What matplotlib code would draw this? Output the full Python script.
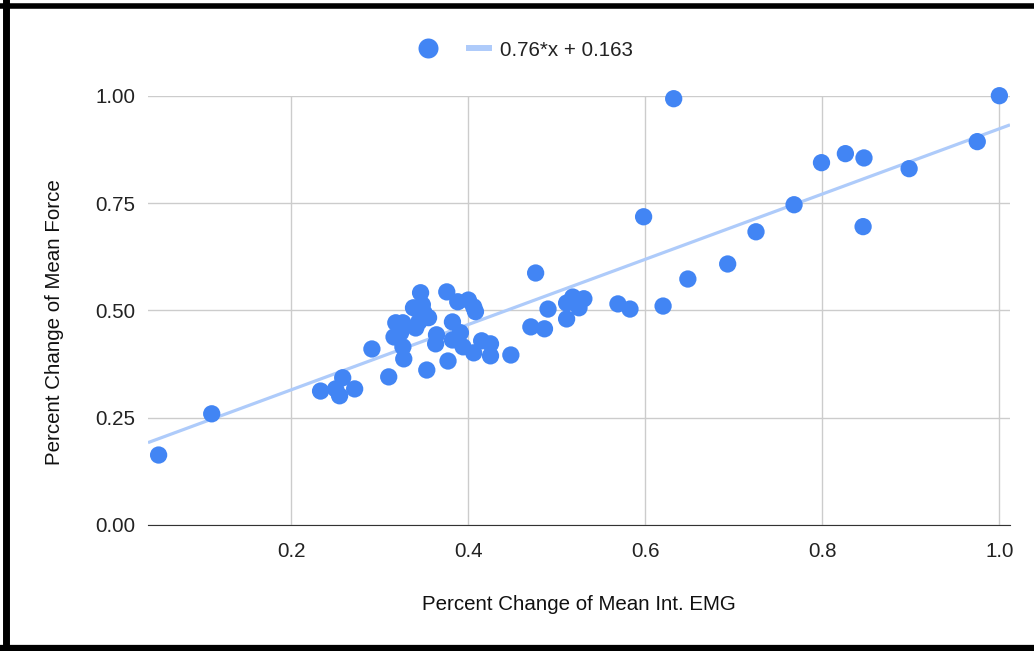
import numpy as np
import matplotlib.pyplot as plt
from matplotlib.lines import Line2D

plt.rcParams['font.family'] = ['Liberation Sans', 'DejaVu Sans']

# values
emg = [0.050, 0.110, 0.233, 0.258, 0.250, 0.2545, 0.2715, 0.291, 0.310, 0.316,
       0.318, 0.326, 0.3235, 0.326, 0.327, 0.338, 0.346, 0.348, 0.350, 0.355,
       0.344, 0.3405, 0.353, 0.364, 0.363, 0.3756, 0.377, 0.382, 0.382, 0.388,
       0.391, 0.394, 0.400, 0.406, 0.408, 0.406, 0.415, 0.425, 0.425, 0.448,
       0.476, 0.4706, 0.486, 0.490, 0.511, 0.511, 0.518, 0.525, 0.5305, 0.569,
       0.5826, 0.620, 0.598, 0.632, 0.648, 0.693, 0.725, 0.768, 0.799, 0.826,
       0.847, 0.846, 0.898, 0.975, 1.000]
force = [0.163, 0.259, 0.312, 0.343, 0.317, 0.301, 0.317, 0.410, 0.345, 0.438,
         0.471, 0.471, 0.448, 0.415, 0.387, 0.506, 0.541, 0.513, 0.494, 0.483,
         0.473, 0.459, 0.361, 0.443, 0.422, 0.543, 0.382, 0.473, 0.431, 0.520,
         0.448, 0.415, 0.524, 0.508, 0.497, 0.401, 0.429, 0.422, 0.394, 0.396,
         0.587, 0.4615, 0.457, 0.503, 0.480, 0.517, 0.531, 0.506, 0.527, 0.515,
         0.503, 0.510, 0.718, 0.993, 0.573, 0.608, 0.683, 0.746, 0.844, 0.865,
         0.855, 0.695, 0.830, 0.893, 1.000]
slope, intercept = 0.76, 0.163
trend_label = "0.76*x + 0.163"
x_ticks = [0.2, 0.4, 0.6, 0.8, 1.0]
y_ticks = [0.0, 0.25, 0.5, 0.75, 1.0]

dot_color = '#4285F4'
trend_color = '#AECBFA'
fs = 14.8

fig = plt.figure(figsize=(10.34, 6.51), dpi=100)
ax = fig.add_axes([148 / 1034, 1 - 525 / 651, (1010 - 148) / 1034, (525 - 95.7) / 651])

xmin, xmax = 0.038, 1.012
xs = np.array([xmin, xmax])
ax.plot(xs, slope * xs + intercept, color=trend_color, lw=2.3, zorder=2, solid_capstyle='butt')
ax.scatter(emg, force, s=155, color=dot_color, edgecolors='none', zorder=3, clip_on=False)

ax.set_xlim(xmin, xmax)
ax.set_ylim(0, 1.0)
ax.set_xticks(x_ticks)
ax.set_xticklabels([f"{t:.1f}" for t in x_ticks])
ax.set_yticks(y_ticks)
ax.set_yticklabels([f"{t:.2f}" for t in y_ticks])
ax.grid(True, color='#cccccc', lw=1)
ax.set_axisbelow(True)
for s in ['top', 'right', 'left']:
    ax.spines[s].set_visible(False)
ax.spines['bottom'].set_color('#333333')
ax.tick_params(length=0, labelsize=fs, colors='#222222')
ax.tick_params(axis='x', pad=12)
ax.tick_params(axis='y', pad=9)

fig.text(55 / 1034, 1 - 322 / 651, "Percent Change of Mean Force", rotation=90,
         ha='center', va='center', fontsize=fs, color='#111111')
fig.text(579 / 1034, 1 - 604 / 651, "Percent Change of Mean Int. EMG",
         ha='center', va='center', fontsize=fs, color='#111111')

h1 = Line2D([], [], marker='o', ls='none', color=dot_color, markersize=14.4, markeredgewidth=0)
h2 = Line2D([], [], color=trend_color, lw=4.3)
fig.legend([h1, h2], ["", trend_label], loc='center', bbox_to_anchor=(525 / 1034, 1 - 50 / 651),
           ncol=2, frameon=False, fontsize=fs, handlelength=1.0, columnspacing=1.0,
           handletextpad=0.5, labelcolor='#222222')

# black frame on left, top and bottom
fig.add_artist(Line2D([0, 1], [1 - 5.5 / 651] * 2, color='black', lw=4, transform=fig.transFigure))
fig.add_artist(Line2D([0, 1], [3 / 651] * 2, color='black', lw=4.5, transform=fig.transFigure))
fig.add_artist(Line2D([5.5 / 1034] * 2, [0, 1], color='black', lw=5, transform=fig.transFigure))

fig.savefig('out.png', dpi=100)
